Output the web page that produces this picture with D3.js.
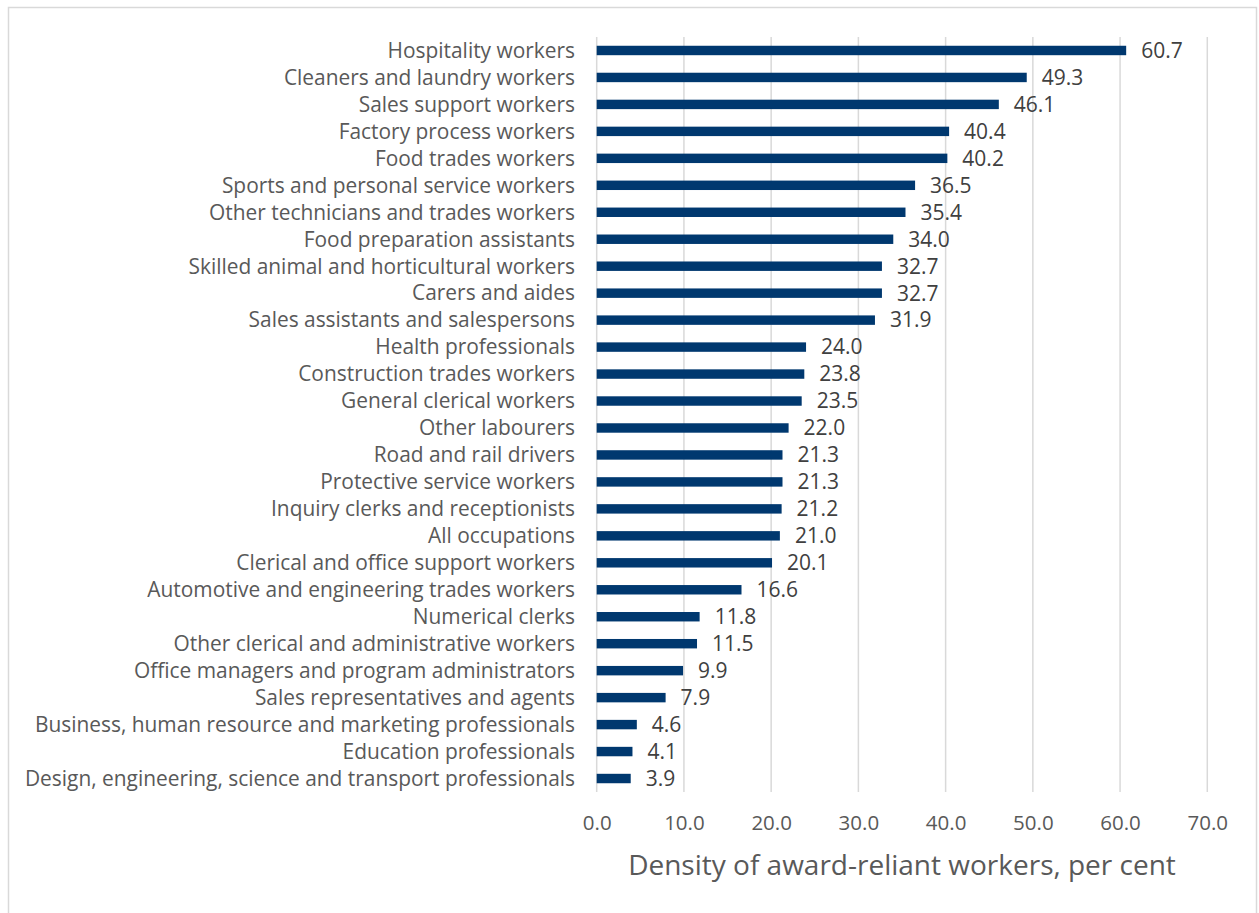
<!DOCTYPE html>
<html><head><meta charset="utf-8">
<script src="https://cdn.jsdelivr.net/npm/d3@7"></script>
<style>body{margin:0;background:#fff;} svg{display:block;font-family:"Open Sans",sans-serif;}</style>
</head><body>
<svg id="c" width="1259" height="913"></svg>
<script>
const categories = ["Hospitality workers","Cleaners and laundry workers","Sales support workers","Factory process workers","Food trades workers","Sports and personal service workers","Other technicians and trades workers","Food preparation assistants","Skilled animal and horticultural workers","Carers and aides","Sales assistants and salespersons","Health professionals","Construction trades workers","General clerical workers","Other labourers","Road and rail drivers","Protective service workers","Inquiry clerks and receptionists","All occupations","Clerical and office support workers","Automotive and engineering trades workers","Numerical clerks","Other clerical and administrative workers","Office managers and program administrators","Sales representatives and agents","Business, human resource and marketing professionals","Education professionals","Design, engineering, science and transport professionals"];
const values = [60.7,49.3,46.1,40.4,40.2,36.5,35.4,34.0,32.7,32.7,31.9,24.0,23.8,23.5,22.0,21.3,21.3,21.2,21.0,20.1,16.6,11.8,11.5,9.9,7.9,4.6,4.1,3.9];
const xTicks = [0,10,20,30,40,50,60,70];
const xTitle = "Density of award-reliant workers, per cent";

(function(){
const svg = d3.select("#c");
svg.append("rect").attr("x",8.5).attr("y",7.5).attr("width",1248).attr("height",920)
  .attr("fill","#fff").attr("stroke","#d9d9d9").attr("stroke-width",1.5);

const pL=596.7, pR=1207.3, pT=37, pB=792;
const x = d3.scaleLinear().domain([0,70]).range([pL,pR]);
const y = d3.scaleBand().domain(categories).range([pT,pB]).paddingInner(0.65).paddingOuter(0.325);

const g = svg.append("g");
g.selectAll("line.grid").data(xTicks).join("line").attr("class","grid")
  .attr("x1",d=>x(d)).attr("x2",d=>x(d)).attr("y1",pT).attr("y2",pB)
  .attr("stroke","#d9d9d9").attr("stroke-width",1.5);

g.selectAll("rect.bar").data(values).join("rect").attr("class","bar")
  .attr("x",x(0)).attr("y",(d,i)=>y(categories[i])).attr("width",d=>x(d)-x(0)).attr("height",y.bandwidth())
  .attr("fill","#00386f");

g.selectAll("text.val").data(values).join("text").attr("class","val")
  .attr("x",d=>x(d)+15).attr("y",(d,i)=>y(categories[i])+y.bandwidth()/2).attr("dy","0.35em")
  .attr("font-size",21).attr("fill","#404040").text(d=>d.toFixed(1));

g.selectAll("text.cat").data(categories).join("text").attr("class","cat")
  .attr("x",575).attr("y",d=>y(d)+y.bandwidth()/2).attr("dy","0.35em").attr("text-anchor","end")
  .attr("font-size",20.9).attr("fill","#595959").text(d=>d);

const ax = d3.axisBottom(x).tickValues(xTicks).tickFormat(d3.format(".1f")).tickSize(0).tickPadding(0);
const axg = svg.append("g").attr("transform",`translate(0,${pB})`).call(ax);
axg.select(".domain").remove();
axg.selectAll("text").attr("font-size",20.5).attr("fill","#595959").attr("font-family","Open Sans, sans-serif")
  .attr("dy",null).attr("y",38);

svg.append("text").attr("x",(pL+pR)/2).attr("y",875).attr("text-anchor","middle")
  .attr("font-size",28).attr("fill","#595959").text(xTitle);
})();
</script>
</body></html>
